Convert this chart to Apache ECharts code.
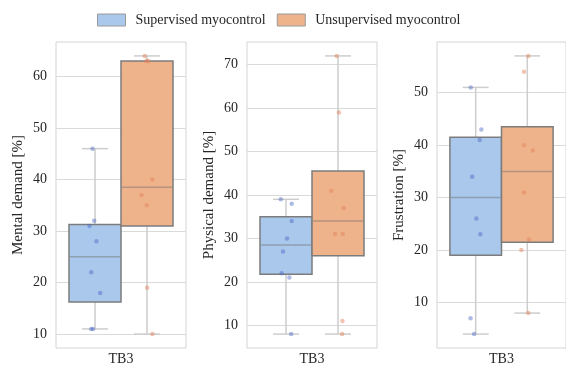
<!DOCTYPE html>
<html>
<head>
<meta charset="utf-8">
<script src="https://cdn.jsdelivr.net/npm/echarts@6/dist/echarts.min.js"></script>
<style>
html,body{margin:0;padding:0;background:#fff;}
#chart{width:566px;height:370px;}
</style>
</head>
<body>
<div id="chart"></div>
<script>
// ---------- data ----------
const categories = ['TB3'];
const groups = ['Supervised myocontrol', 'Unsupervised myocontrol'];
const panelNames = ['Mental demand [%]', 'Physical demand [%]', 'Frustration [%]'];

// raw ratings (points)
const mentalSup = [46, 32, 31, 28, 22, 18, 11, 11];
const mentalUnsup = [64, 63, 63, 40, 37, 35, 19, 10];
const physicalSup = [39, 38, 34, 30, 27, 22, 21, 8];
const physicalUnsup = [72, 59, 41, 37, 31, 31, 11, 8];
const frustrationSup = [51, 43, 41, 34, 26, 23, 7, 4];
const frustrationUnsup = [57, 54, 40, 39, 31, 22, 20, 8];

// strip-plot jitter (x offset within the category)
const mentalSupJitter = [-0.219, -0.206, -0.242, -0.189, -0.229, -0.160, -0.229, -0.215];
const mentalUnsupJitter = [0.183, 0.196, 0.211, 0.242, 0.158, 0.198, 0.201, 0.242];
const physicalSupJitter = [-0.240, -0.156, -0.156, -0.192, -0.223, -0.233, -0.174, -0.160];
const physicalUnsupJitter = [0.190, 0.207, 0.148, 0.244, 0.177, 0.236, 0.234, 0.232];
const frustrationSupJitter = [-0.238, -0.156, -0.169, -0.227, -0.195, -0.164, -0.240, -0.212];
const frustrationUnsupJitter = [0.208, 0.175, 0.175, 0.243, 0.175, 0.213, 0.154, 0.208];

// box statistics [lower whisker, Q1, median, Q3, upper whisker]
const mentalSupBox = [11, 16.25, 25, 31.25, 46];
const mentalUnsupBox = [10, 31, 38.5, 63, 64];
const physicalSupBox = [8, 21.75, 28.5, 35, 39];
const physicalUnsupBox = [8, 26, 34, 45.5, 72];
const frustrationSupBox = [4, 19, 30, 41.5, 51];
const frustrationUnsupBox = [8, 21.5, 35, 43.5, 57];

// y-axis ranges
const yRanges = [[7.3, 66.7], [4.8, 75.2], [1.35, 59.65]];
// group position within category
const groupOffsets = [-0.2, 0.2];

// ---------- styling ----------
const FONT = '"Liberation Serif", "DejaVu Serif", serif';
const fills = ['#a9c8ec', '#efb38c'];
const pointColors = ['rgba(70,100,195,0.55)', 'rgba(226,130,90,0.6)'];
const boxEdge = '#7c7c7c';
const whiskerColor = '#cdcdcd';
const medianColor = 'rgba(110,110,110,0.45)';
const gridLefts = [56, 247, 437];

const panels = [
  {sup: mentalSup, unsup: mentalUnsup, supJ: mentalSupJitter, unsupJ: mentalUnsupJitter, supB: mentalSupBox, unsupB: mentalUnsupBox},
  {sup: physicalSup, unsup: physicalUnsup, supJ: physicalSupJitter, unsupJ: physicalUnsupJitter, supB: physicalSupBox, unsupB: physicalUnsupBox},
  {sup: frustrationSup, unsup: frustrationUnsup, supJ: frustrationSupJitter, unsupJ: frustrationUnsupJitter, supB: frustrationSupBox, unsupB: frustrationUnsupBox}
];

function makeRender(fill) {
  return function (params, api) {
    const cx = api.value(0);
    const lo = api.value(1), q1 = api.value(2), med = api.value(3), q3 = api.value(4), hi = api.value(5);
    const hw = 0.2, cw = 0.1;
    const tl = api.coord([cx - hw, q3]);
    const br = api.coord([cx + hw, q1]);
    const pMed = api.coord([cx, med]);
    const pLo = api.coord([cx, lo]);
    const pHi = api.coord([cx, hi]);
    const capL = api.coord([cx - cw, lo])[0];
    const capR = api.coord([cx + cw, lo])[0];
    const wl = {stroke: whiskerColor, lineWidth: 1.5};
    return {
      type: 'group',
      children: [
        {type: 'line', shape: {x1: pHi[0], y1: pHi[1], x2: pHi[0], y2: tl[1]}, style: wl},
        {type: 'line', shape: {x1: pLo[0], y1: pLo[1], x2: pLo[0], y2: br[1]}, style: wl},
        {type: 'line', shape: {x1: capL, y1: pHi[1], x2: capR, y2: pHi[1]}, style: wl},
        {type: 'line', shape: {x1: capL, y1: pLo[1], x2: capR, y2: pLo[1]}, style: wl},
        {type: 'rect', shape: {x: tl[0], y: tl[1], width: br[0] - tl[0], height: br[1] - tl[1]},
          style: {fill: fill, stroke: boxEdge, lineWidth: 1.5}},
        {type: 'line', shape: {x1: tl[0] + 1, y1: pMed[1], x2: br[0] - 1, y2: pMed[1]},
          style: {stroke: medianColor, lineWidth: 1.5}}
      ]
    };
  };
}

const grids = [], xAxes = [], yAxes = [], series = [];
panels.forEach(function (p, i) {
  grids.push({left: gridLefts[i], top: 42, width: 130, height: 306, show: true,
    borderColor: '#d4d4d4', borderWidth: 1, backgroundColor: 'transparent', containLabel: false});
  xAxes.push({type: 'category', gridIndex: i, data: categories,
    axisLine: {show: false}, axisTick: {show: false}, splitLine: {show: false},
    axisLabel: {fontFamily: FONT, fontSize: 14, color: '#262626', margin: 4}});
  xAxes.push({type: 'value', gridIndex: i, min: -0.5, max: 0.5, show: false, splitLine: {show: false}});
  yAxes.push({type: 'value', gridIndex: i, min: yRanges[i][0], max: yRanges[i][1],
    name: panelNames[i], nameLocation: 'middle', nameGap: 30,
    nameTextStyle: {fontFamily: FONT, fontSize: 15, color: '#262626'},
    axisLine: {show: false}, axisTick: {show: false},
    splitLine: {show: true, showMinLine: false, showMaxLine: false, lineStyle: {color: '#dadada', width: 1}},
    axisLabel: {fontFamily: FONT, fontSize: 14, color: '#262626', margin: 9,
      showMinLabel: false, showMaxLabel: false,
      formatter: function (v) { return Math.abs(v - Math.round(v / 10) * 10) < 1e-6 ? String(Math.round(v)) : ''; }}});

  const boxes = [p.supB, p.unsupB];
  const vals = [p.sup, p.unsup];
  const jit = [p.supJ, p.unsupJ];
  for (let g = 0; g < 2; g++) {
    series.push({
      name: groups[g], type: 'custom', xAxisIndex: 2 * i + 1, yAxisIndex: i,
      renderItem: makeRender(fills[g]),
      encode: {x: 0, y: [1, 2, 3, 4, 5]},
      itemStyle: {color: fills[g]},
      data: [[groupOffsets[g]].concat(boxes[g])],
      z: 2, silent: true
    });
  }
  for (let g = 0; g < 2; g++) {
    series.push({
      name: 'points-' + i + '-' + g, type: 'scatter', xAxisIndex: 2 * i + 1, yAxisIndex: i,
      symbolSize: 4.5, itemStyle: {color: pointColors[g]},
      data: vals[g].map(function (v, k) { return [jit[g][k], v]; }),
      z: 5, silent: true
    });
  }
});

const chart = echarts.init(document.getElementById('chart'), null, {renderer: 'canvas'});
chart.setOption({
  animation: false,
  backgroundColor: '#ffffff',
  legend: {
    left: 92, top: 8, itemWidth: 28, itemHeight: 12, itemGap: 11,
    textStyle: {fontFamily: FONT, fontSize: 14, color: '#262626', padding: [0, 0, 0, 5]},
    data: groups.map(function (n, g) {
      return {name: n, icon: 'rect', itemStyle: {color: fills[g], borderColor: '#9a9a9a', borderWidth: 1}};
    })
  },
  grid: grids,
  xAxis: xAxes,
  yAxis: yAxes,
  series: series
});
</script>
</body>
</html>
